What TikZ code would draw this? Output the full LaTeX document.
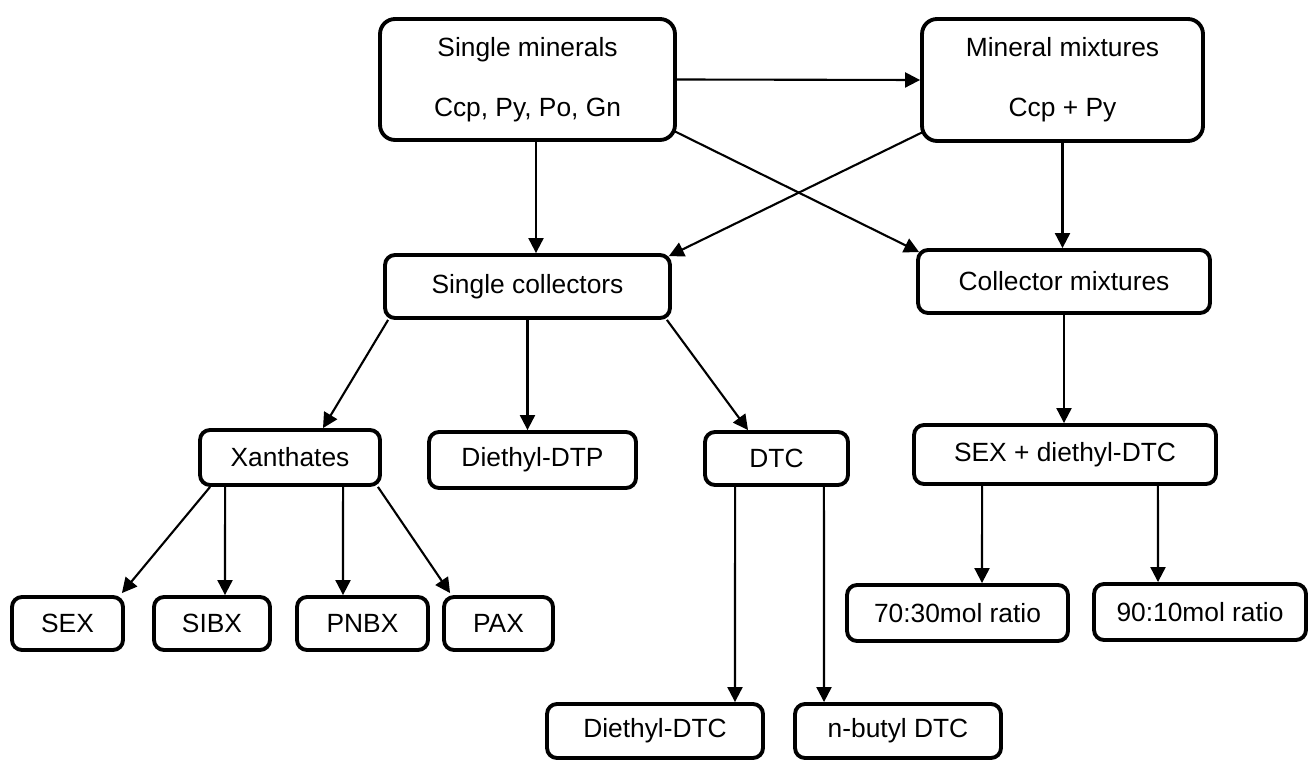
\documentclass[tikz,border=0pt]{standalone}
\usepackage{fontspec}
\setmainfont{Liberation Sans}
\usetikzlibrary{arrows.meta}
\tikzset{
  box/.style={
    draw,
    rounded corners=0.2cm,
    line width=2.2pt,
    inner sep=0pt,
    align=center,
    font=\fontsize{15}{18}\selectfont,
  },
  bigbox/.style={
    box,
    rounded corners=0.3cm,
    font=\fontsize{15}{34}\selectfont,
  },
  link/.style={
    -{Triangle[length=0.3cm,width=0.3cm]},
    line width=1.2pt,
  }
}

\begin{document}
\begin{tikzpicture}[x=0.02cm, y=-0.02cm]
  \useasboundingbox (0, 0) rectangle (1311, 763);

  \node[bigbox, minimum width=5.9cm, minimum height=2.42cm] (sm) at (527.5, 79.5) {Single minerals\\Ccp, Py, Po, Gn};
  \node[bigbox, minimum width=5.62cm, minimum height=2.44cm] (mm) at (1062.5, 80) {Mineral mixtures\\Ccp + Py};

  \node[box, minimum width=5.7cm, minimum height=1.26cm] (sc) at (527.5, 286.5) {Single collectors};
  \node[box, minimum width=5.84cm, minimum height=1.26cm] (cm) at (1064, 281.5) {Collector mixtures};

  \node[box, minimum width=3.6cm, minimum height=1.1cm] (xan) at (290, 457.5) {Xanthates};
  \node[box, minimum width=4.14cm, minimum height=1.12cm] (dtp) at (532.5, 460) {Diethyl-DTP};
  \node[box, minimum width=2.86cm, minimum height=1.06cm] (dtc) at (776.5, 458.5) {DTC};
  \node[box, minimum width=6.04cm, minimum height=1.18cm] (mix) at (1065, 454.5) {SEX + diethyl-DTC};

  \node[box, minimum width=2.22cm, minimum height=1.06cm] (sex) at (67.5, 623.5) {SEX};
  \node[box, minimum width=2.32cm, minimum height=1.06cm] (sibx) at (212, 623.5) {SIBX};
  \node[box, minimum width=2.62cm, minimum height=1.06cm] (pnbx) at (362.5, 623.5) {PNBX};
  \node[box, minimum width=2.18cm, minimum height=1.06cm] (pax) at (498.5, 623.5) {PAX};
  \node[box, minimum width=4.42cm, minimum height=1.12cm] (r70) at (957.5, 613) {70:30mol ratio};
  \node[box, minimum width=4.24cm, minimum height=1.12cm] (r90) at (1200, 612) {90:10mol ratio};

  \node[box, minimum width=4.32cm, minimum height=1.08cm] (ddtc) at (655, 731) {Diethyl-DTC};
  \node[box, minimum width=4.12cm, minimum height=1.08cm] (nbdtc) at (898, 731) {n-butyl DTC};

  \draw[link] (sm.east) -- (mm.west);
  \draw[link] ([xshift=0.17cm]sm.south) -- ([xshift=0.17cm]sm.south |- sc.north);
  \draw[link] ([shift={(-0.06cm,0.22cm)}]sm.south east) -- ([shift={(0.06cm,-0.08cm)}]cm.north west);
  \draw[link] ([shift={(0.06cm,0.22cm)}]mm.south west) -- ([shift={(-0.06cm,-0.06cm)}]sc.north east);
  \draw[link] (mm.south) -- (mm.south |- cm.north);

  \draw[link] ([xshift=0.1cm]sc.south west) -- ([xshift=0.66cm]xan.north);
  \draw[link] (sc.south) -- (sc.south |- dtp.north);
  \draw[link] ([xshift=-0.1cm]sc.south east) -- ([xshift=-0.57cm]dtc.north);
  \draw[link] (cm.south) -- (cm.south |- mix.north);

  \draw[link] ([xshift=0.24cm]xan.south west) -- ([shift={(-0.06cm,0.04cm)}]sex.north east);
  \draw[link] ([xshift=0.54cm]xan.south west) -- ([xshift=0.26cm]sibx.north);
  \draw[link] ([xshift=2.9cm]xan.south west) -- ([xshift=-0.39cm]pnbx.north);
  \draw[link] ([xshift=-0.08cm]xan.south east) -- ([shift={(0.16cm,0.04cm)}]pax.north west);

  \draw[link] ([xshift=0.64cm]dtc.south west) -- ([xshift=1.6cm]ddtc.north);
  \draw[link] ([xshift=-0.52cm]dtc.south east) -- ([xshift=-1.48cm]nbdtc.north);

  \draw[link] ([xshift=1.4cm]mix.south west) -- ([xshift=0.49cm]r70.north);
  \draw[link] ([xshift=-1.2cm]mix.south east) -- ([xshift=-0.84cm]r90.north);

\end{tikzpicture}
\end{document}
